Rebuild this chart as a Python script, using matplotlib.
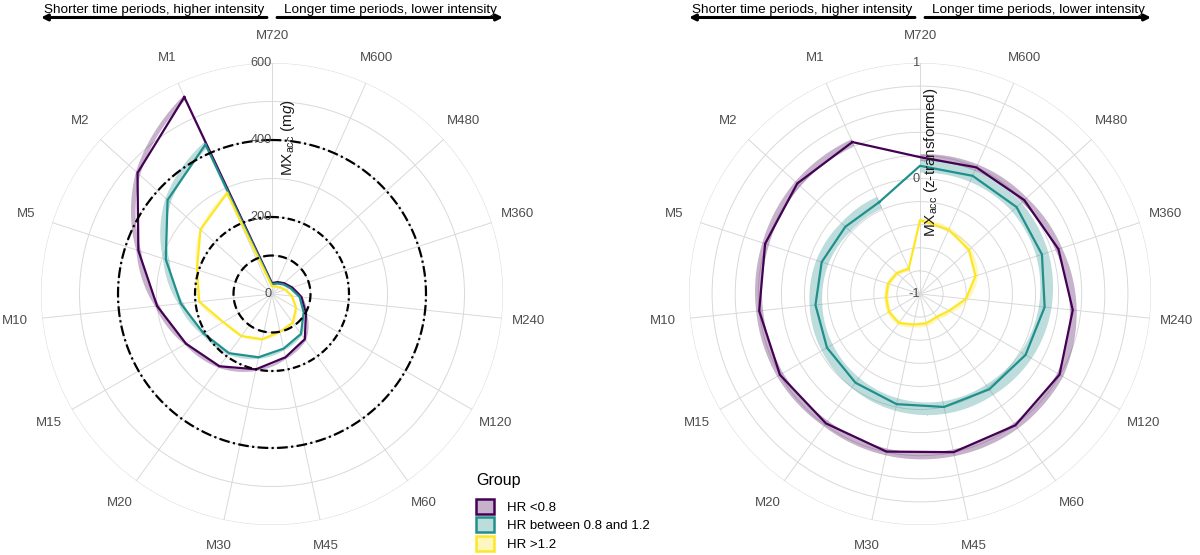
import numpy as np
import matplotlib.pyplot as plt
from matplotlib.patches import Patch
from matplotlib.colors import to_rgba

plt.rcParams['font.family'] = ['Liberation Sans', 'DejaVu Sans']
plt.rcParams['mathtext.fontset'] = 'custom'
plt.rcParams['mathtext.rm'] = 'Liberation Sans'
plt.rcParams['mathtext.it'] = 'Liberation Sans:italic'
plt.rcParams['mathtext.default'] = 'regular'

# Categories, placed counter-clockwise starting just left of the top
metrics = ['M1', 'M2', 'M5', 'M10', 'M15', 'M20', 'M30', 'M45', 'M60',
           'M120', 'M240', 'M360', 'M480', 'M600', 'M720']
groups = ['HR <0.8', 'HR between 0.8 and 1.2', 'HR >1.2']
colors = ['#440154', '#21908C', '#FDE725']

# Left panel: MXacc in mg
mg_low = [560, 470, 365, 300, 258, 232, 200, 168, 145, 102, 77, 55, 42, 34, 28]
mg_mid = [425, 365, 290, 238, 205, 190, 168, 145, 128, 95, 72, 50, 38, 30, 25]
mg_high = [287, 250, 205, 190, 146, 135, 120, 100, 92, 72, 52, 36, 26, 22, 20]
# ribbon half widths (mg)
mg_low_band = [6, 7, 7, 6, 4, 4, 3, 3, 3, 2, 2, 2, 2, 2, 2]
mg_mid_band = [9, 9, 9, 7, 5, 4, 3, 3, 3, 2, 2, 2, 2, 2, 2]
mg_high_band = [3, 3, 3, 3, 2, 2, 2, 2, 2, 2, 2, 2, 2, 2, 2]

# Right panel: MXacc z-transformed
z_low = [0.44, 0.43, 0.41, 0.40, 0.40, 0.385, 0.395, 0.40, 0.405, 0.395,
         0.33, 0.26, 0.215, 0.20, 0.185]
z_mid = [-0.13, -0.13, -0.105, -0.09, -0.07, -0.05, -0.025, 0.0, 0.02, 0.055,
         0.085, 0.11, 0.125, 0.12, 0.11]
z_high = [-0.76, -0.73, -0.71, -0.705, -0.69, -0.69, -0.73, -0.74, -0.755,
          -0.71, -0.60, -0.495, -0.43, -0.39, -0.36]
z_low_band = [0.03] * 15
z_mid_band = [0.055] * 15
z_high_band = [0.02] * 15

# intensity reference circles on the left panel (mg)
thresholds = [100, 200, 400]
threshold_styles = [(0, (4, 2)), (0, (3.4, 1.5, 1, 1.5)), (0, (4.8, 1.5, 1, 1.5))]

theta = np.deg2rad(360 / len(metrics) * np.arange(1, len(metrics) + 1))


def draw_panel(ax, series, bands, rlim, grid_r, label_r, label_txt, title, title_xy):
    ax.set_theta_zero_location('N')
    ax.set_theta_direction(1)
    ax.set_ylim(*rlim)
    ax.set_xticks(theta, metrics)
    ax.set_yticks(grid_r)
    ax.set_yticklabels([])
    ax.tick_params(axis='x', pad=9, labelsize=9.5, labelcolor='#4D4D4D')
    ax.tick_params(axis='y', length=0)
    ax.grid(color='#D9D9D9', lw=0.7)
    ax.spines['polar'].set_visible(False)

    for vals, band, col in zip(series, bands, colors):
        vals = np.array(vals)
        band = np.array(band)
        rib = ax.fill_between(theta, vals - band, vals + band, color=col,
                              alpha=0.3, lw=0, zorder=2)
        for p in rib.get_paths():
            p._interpolation_steps = 40
    for vals, col in zip(series, colors):
        ax.plot(np.append(theta, theta[0]), np.append(vals, vals[0]),
                color=col, lw=1.6, zorder=3)

    for r, t in zip(label_r, label_txt):
        ax.text(0, r, t, ha='right', va='center', fontsize=9.2,
                color='#4D4D4D', zorder=5)
    ax.text(title_xy[0], title_xy[1], title, transform=ax.transAxes,
            rotation=90, ha='center', va='center', fontsize=11,
            color='#1A1A1A', zorder=5)

    # header arrows
    y_arrow = 1.0985
    ax.annotate('', xy=(0.0, y_arrow), xytext=(0.489, y_arrow),
                xycoords='axes fraction', annotation_clip=False,
                arrowprops=dict(arrowstyle='-|>', lw=2.2, color='black',
                                shrinkA=0, shrinkB=0, mutation_scale=9))
    ax.annotate('', xy=(1.0, y_arrow), xytext=(0.511, y_arrow),
                xycoords='axes fraction', annotation_clip=False,
                arrowprops=dict(arrowstyle='-|>', lw=2.2, color='black',
                                shrinkA=0, shrinkB=0, mutation_scale=9))
    ax.text(0.2445, 1.109, 'Shorter time periods, higher intensity',
            transform=ax.transAxes, ha='center', va='baseline', fontsize=9.7)
    ax.text(0.7555, 1.109, 'Longer time periods, lower intensity',
            transform=ax.transAxes, ha='center', va='baseline', fontsize=9.7)


fig = plt.figure(figsize=(12, 5.55), dpi=100)
ax1 = fig.add_axes([41 / 1200, 30 / 555, 462 / 1200, 462 / 555], projection='polar')
ax2 = fig.add_axes([689 / 1200, 30 / 555, 462 / 1200, 462 / 555], projection='polar')

draw_panel(ax1, [mg_low, mg_mid, mg_high], [mg_low_band, mg_mid_band, mg_high_band],
           (0, 600), np.arange(100, 601, 100), [0, 200, 400, 600],
           ['0', '200', '400', '600'], 'MX$_{acc}$ (m$\\it{g}$)', (0.535, 0.838))
for r, ls in zip(thresholds, threshold_styles):
    circ = np.linspace(0, 2 * np.pi, 361)
    ax1.plot(circ, np.full(circ.size, r), color='black', lw=1.6, ls=ls, zorder=4)

draw_panel(ax2, [z_low, z_mid, z_high], [z_low_band, z_mid_band, z_high_band],
           (-1, 1), np.round(np.arange(-0.8, 1.01, 0.2), 1), [-1, 0, 1],
           ['-1', '0', '1'], 'MX$_{acc}$ (z-transformed)', (0.524, 0.786))

handles = [Patch(facecolor=to_rgba(c, 0.3), edgecolor=c, lw=1.8) for c in colors]
leg = fig.legend(handles, groups, loc='upper left', bbox_to_anchor=(0.397, 0.148),
                 frameon=False, title='Group', title_fontsize=11.5, fontsize=9.5,
                 handlelength=1.35, handleheight=1.35, labelspacing=0.28,
                 handletextpad=0.95, borderpad=0, borderaxespad=0, alignment='left')
leg._legend_box.sep = 8

fig.savefig('out.png', dpi=100)
